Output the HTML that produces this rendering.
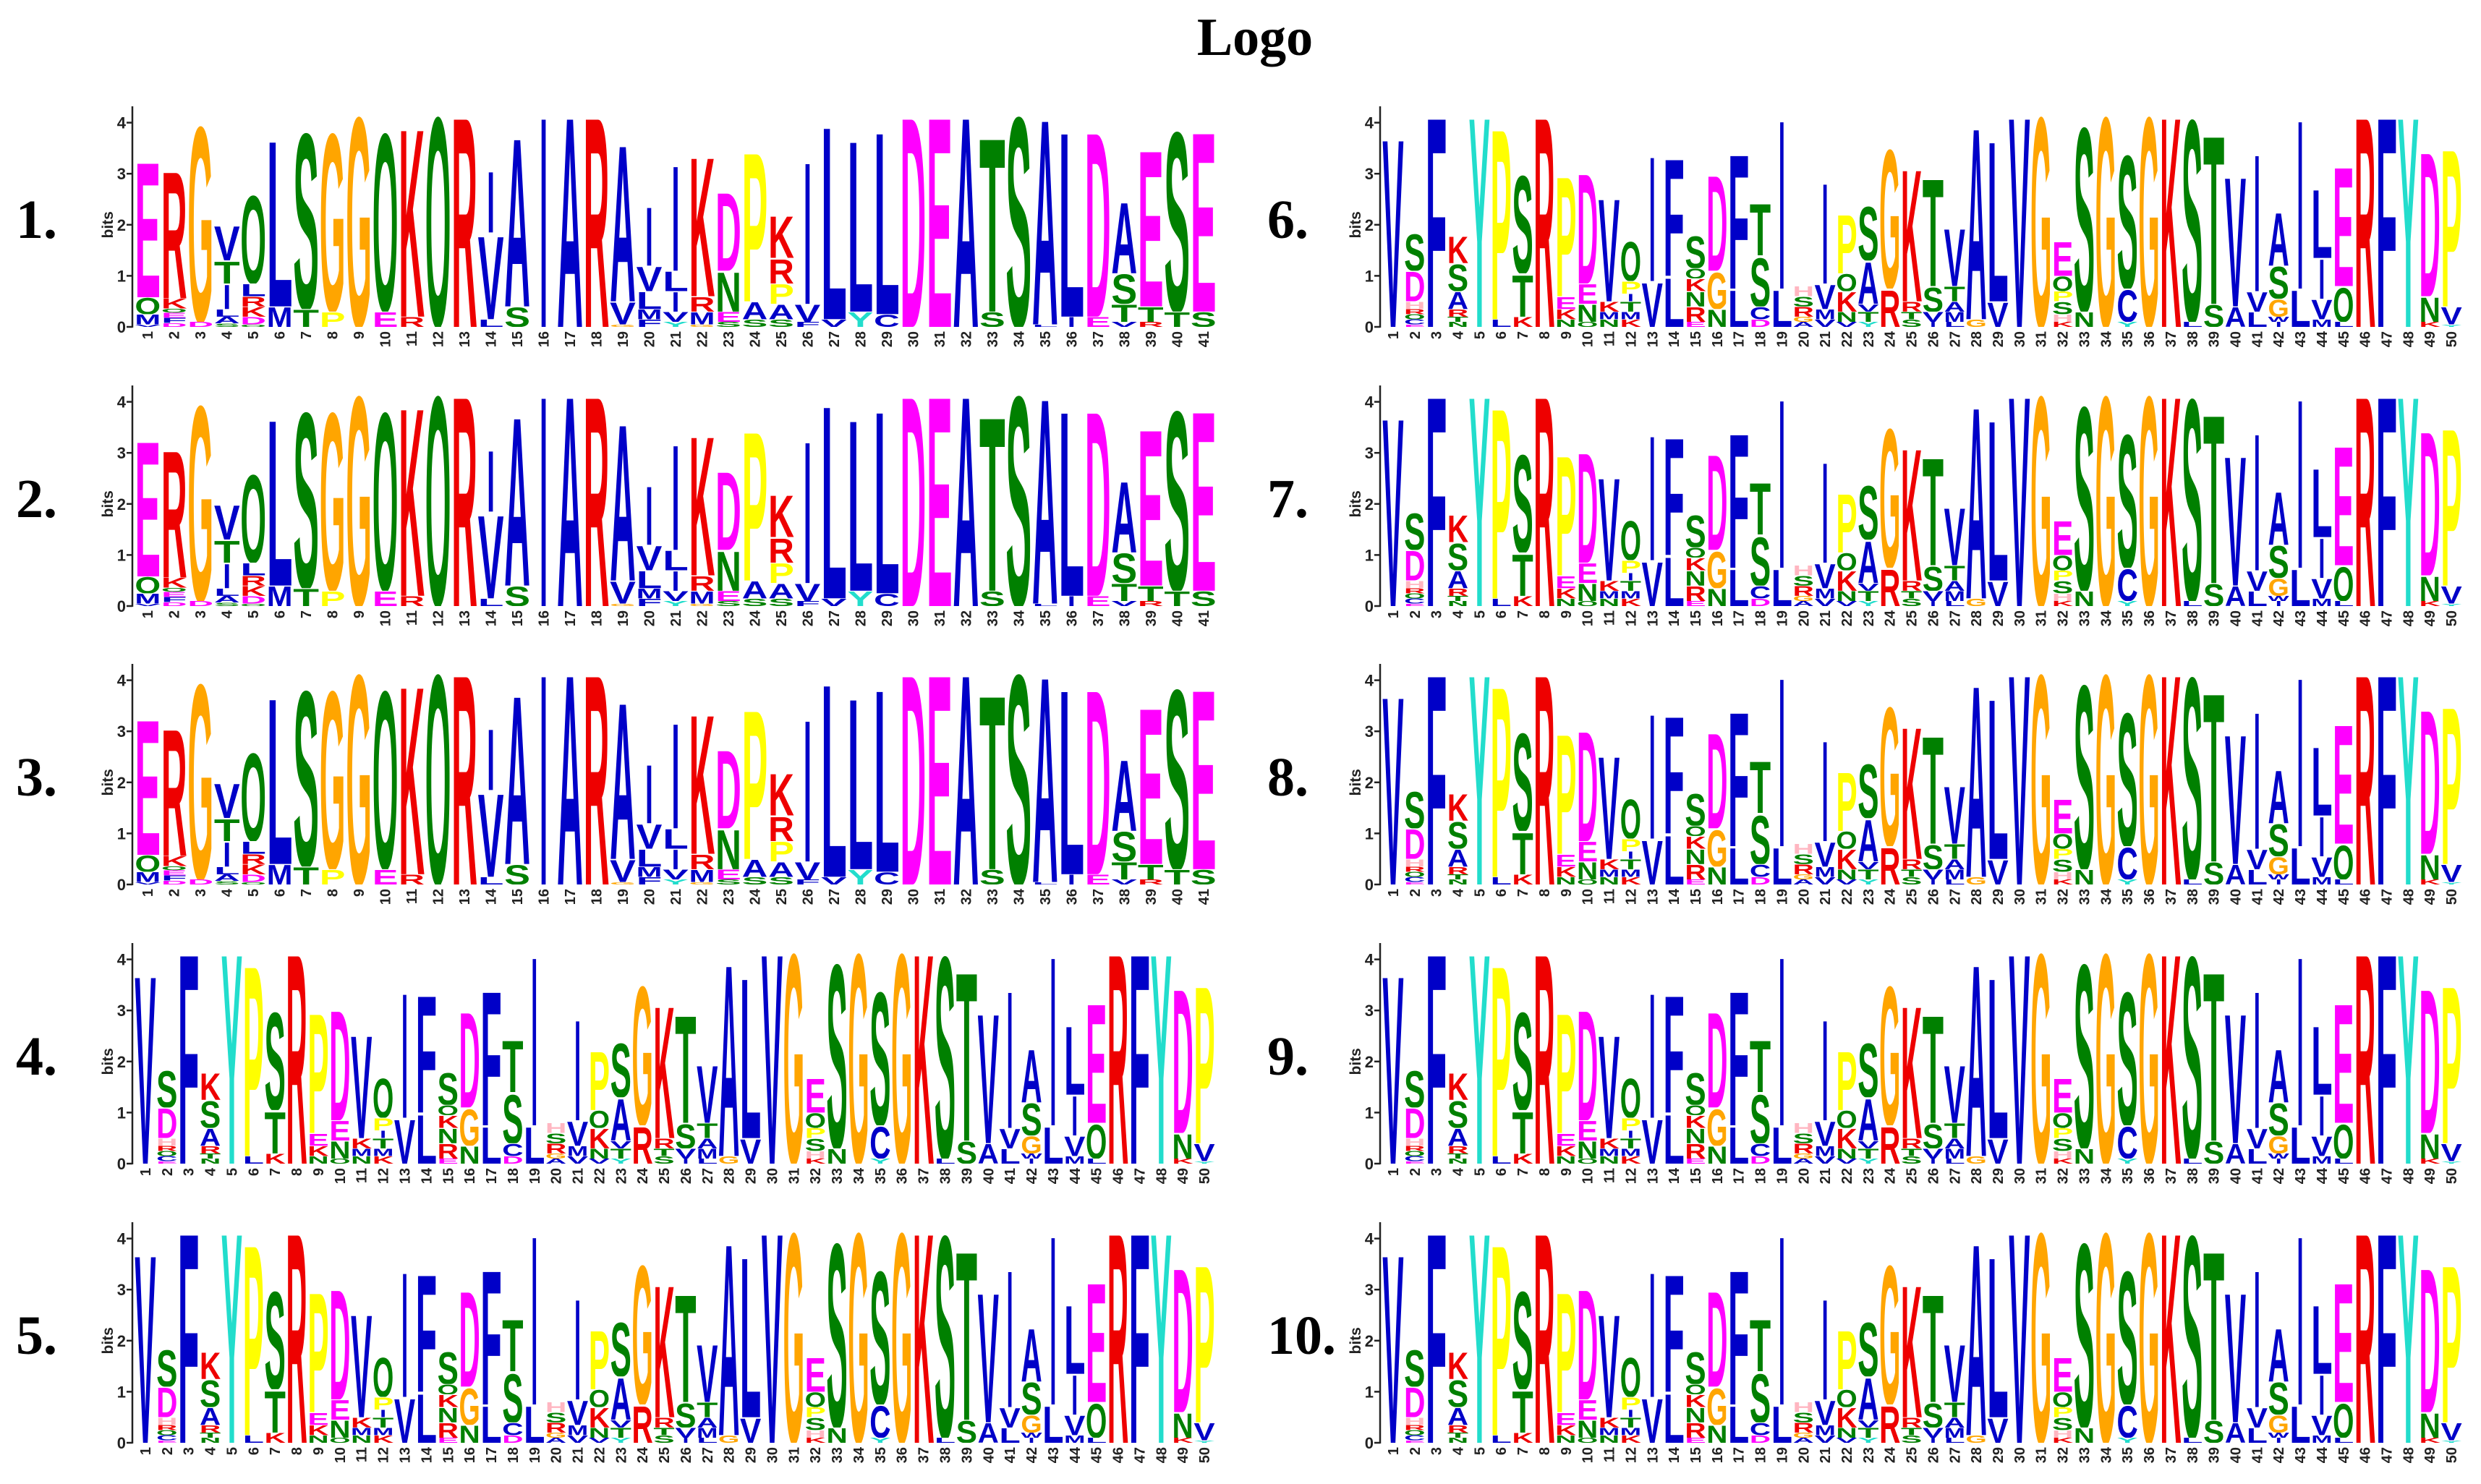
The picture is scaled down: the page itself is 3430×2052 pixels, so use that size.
<!DOCTYPE html>
<html><head><meta charset="utf-8">
<style>
html,body{margin:0;padding:0;background:#fff;}
svg{display:block;}
</style></head>
<body>
<svg id="fig" width="3430" height="2052" viewBox="0 0 3430 2052" xmlns="http://www.w3.org/2000/svg">
<rect width="3430" height="2052" fill="#fff"/>
<text x="1735" y="76" font-family="Liberation Serif, serif" font-weight="bold" font-size="74" text-anchor="middle">Logo</text>
</svg>
<script>
// Motif A (41 positions), stacks bottom->top as [letter, bits]
const motifA = [
 [["V",.05],["M",.2],["Q",.33],["E",2.77]],
 [["D",.08],["F",.1],["E",.1],["Q",.08],["K",.2],["R",2.6]],
 [["D",.1],["G",4.0]],
 [["S",.07],["A",.13],["L",.15],["I",.5],["T",.45],["V",.7]],
 [["Q",.05],["D",.15],["K",.2],["R",.2],["L",.25],["Q",1.8]],
 [["M",.4],["L",3.4]],
 [["T",.35],["S",3.6]],
 [["P",.3],["G",3.65]],
 [["G",4.3]],
 [["E",.3],["Q",3.65]],
 [["R",.2],["K",3.85]],
 [["Q",4.3]],
 [["R",4.3]],
 [["L",.15],["V",1.7],["I",1.25]],
 [["S",.4],["A",3.45]],
 [["I",4.3]],
 [["A",4.3]],
 [["R",4.3]],
 [["G",.05],["V",.45],["A",3.2]],
 [["F",.15],["M",.2],["L",.35],["V",.5],["I",1.2]],
 [["Y",.1],["V",.2],["I",.4],["L",.4],["I",2.15]],
 [["G",.05],["M",.25],["R",.3],["K",2.85]],
 [["S",.1],["E",.2],["N",.8],["D",1.6]],
 [["S",.15],["A",.35],["P",3.05]],
 [["S",.15],["A",.3],["P",.4],["R",.5],["K",.85]],
 [["F",.1],["V",.35],["I",2.9]],
 [["V",.15],["L",3.95]],
 [["Y",.3],["L",3.5]],
 [["C",.25],["L",3.73]],
 [["D",4.3]],
 [["E",4.3]],
 [["A",4.3]],
 [["S",.3],["T",3.56]],
 [["S",4.3]],
 [["L",.05],["A",4.2]],
 [["I",.2],["L",3.78]],
 [["E",.2],["D",3.78]],
 [["V",.1],["T",.35],["S",.6],["A",1.45]],
 [["R",.1],["T",.3],["E",3.2]],
 [["T",.3],["S",3.68]],
 [["S",.3],["E",3.68]]
];
// Motif B (50 positions)
const motifB = [
 [["V",3.85]],
 [["E",.05],["C",.1],["Q",.1],["R",.1],["H",.15],["D",.6],["S",.75]],
 [["F",4.3]],
 [["N",.1],["T",.1],["R",.15],["A",.35],["S",.55],["K",.55]],
 [["Y",4.3]],
 [["L",.15],["P",3.9]],
 [["K",.2],["T",.85],["S",2.0]],
 [["R",4.3]],
 [["N",.15],["K",.2],["E",.25],["P",2.45]],
 [["Q",.1],["N",.35],["E",.4],["D",2.25]],
 [["N",.15],["M",.15],["K",.2],["V",2.1]],
 [["K",.15],["M",.15],["T",.2],["I",.15],["P",.25],["Q",.8]],
 [["V",.9],["I",2.55]],
 [["L",1.0],["F",2.4]],
 [["E",.1],["R",.3],["N",.3],["K",.25],["Q",.2],["S",.65]],
 [["N",.35],["G",.75],["D",1.95]],
 [["L",.75],["F",2.75]],
 [["D",.15],["C",.25],["S",1.0],["T",1.05]],
 [["L",.75],["I",3.45]],
 [["A",.1],["G",.1],["R",.2],["S",.2],["H",.2]],
 [["V",.15],["M",.2],["V",.5],["I",2.05]],
 [["V",.1],["N",.2],["K",.4],["Q",.35],["P",1.2]],
 [["Y",.1],["T",.2],["V",.15],["A",.85],["S",1.1]],
 [["R",.75],["G",2.85]],
 [["S",.15],["T",.15],["R",.2],["K",2.7]],
 [["I",.1],["V",.2],["S",.5],["T",2.2]],
 [["L",.1],["M",.2],["A",.2],["T",.3],["V",1.17]],
 [["G",.15],["A",3.92]],
 [["V",.5],["L",3.28]],
 [["V",4.3]],
 [["G",4.3]],
 [["K",.1],["H",.15],["S",.25],["P",.2],["Q",.3],["E",.7]],
 [["N",.3],["S",3.77]],
 [["G",4.3]],
 [["Y",.1],["C",.65],["S",2.73]],
 [["G",4.3]],
 [["K",4.3]],
 [["L",.1],["S",4.14]],
 [["S",.45],["T",3.45]],
 [["A",.4],["V",2.65]],
 [["L",.3],["V",.4],["I",2.8]],
 [["I",.1],["W",.1],["G",.35],["S",.65],["A",1.08]],
 [["L",.75],["I",3.45]],
 [["M",.15],["V",.4],["I",.8],["L",1.4]],
 [["L",.1],["Q",.7],["E",2.44]],
 [["R",4.3]],
 [["F",4.3]],
 [["Y",4.3]],
 [["K",.1],["N",.5],["D",2.95]],
 [["Y",.05],["V",.35],["P",3.22]]
];
const yTicks = [0,1,2,3,4];
const panelLabels = ["1.","2.","3.","4.","5.","6.","7.","8.","9.","10."];
const panelMotifs = ["A","A","A","B","B","B","B","B","B","B"];

const colors = {A:"#0000c8",V:"#0000c8",L:"#0000c8",I:"#0000c8",F:"#0000c8",M:"#0000c8",W:"#0000c8",C:"#0000c8",
 Y:"#22ddcc",P:"#ffff00",G:"#ffa500",S:"#008000",T:"#008000",Q:"#008000",N:"#008000",
 K:"#ee0000",R:"#ee0000",H:"#ffb6c1",D:"#ff00ff",E:"#ff00ff"};
const NS="http://www.w3.org/2000/svg";
const svg=document.getElementById("fig");
function mk(t,attrs){const e=document.createElementNS(NS,t);for(const k in attrs)e.setAttribute(k,attrs[k]);return e;}

const rowsY=[452,838,1223,1609,1995];
const bitH=70.6;
const CAP=72.9;

panelLabels.forEach((lab,p)=>{
  const left = p<5;
  const y0 = rowsY[p%5];
  const axisX = left?183:1908;
  const x0 = axisX+3;
  const data = panelMotifs[p]==="A"?motifA:motifB;
  const xEnd = left?(panelMotifs[p]==="A"?1682:1680):3404;
  const colW=(xEnd-x0)/data.length;
  const yS=v=>y0-v*bitH;
  const g=mk("g",{});
  
  
  svg.appendChild(g);
  const lt=mk("text",{x:left?22:1752,y:y0-123,"font-family":"Liberation Serif, serif","font-weight":"bold","font-size":"76"});
  
  
  lt.textContent=lab;g.appendChild(lt);
  const ax=mk("line",{x1:axisX,y1:y0+1,x2:axisX,y2:yS(4.32),stroke:"#222","stroke-width":"2.5"});
  
  
  g.appendChild(ax);
  yTicks.forEach(t=>{
    g.appendChild(mk("line",{x1:axisX-8,y1:yS(t),x2:axisX,y2:yS(t),stroke:"#222","stroke-width":"2.5"}));
    const tt=mk("text",{x:axisX-9,y:yS(t)+8,"font-family":"Liberation Sans, sans-serif","font-weight":"bold","font-size":"22","text-anchor":"end",fill:"#222"});
    
    
    tt.textContent=t;g.appendChild(tt);
  });
  const bl=mk("text",{transform:`translate(${axisX-27},${yS(2)}) rotate(-90)`,"font-family":"Liberation Sans, sans-serif","font-weight":"bold","font-size":"21","text-anchor":"middle",fill:"#222"});
  
  
  bl.textContent="bits";g.appendChild(bl);
  data.forEach((col,i)=>{
    const cx=x0+i*colW;
    let acc=0;
    col.forEach(([L,h])=>{
      const yb=yS(acc);
      acc+=h;
      const hp=h*bitH;
      const box=mk("svg",{x:cx.toFixed(2),y:(yb-hp).toFixed(2),width:colW.toFixed(2),height:Math.max(hp,0.5).toFixed(2),overflow:"hidden"});
      
      
      const isI=(L==="I");
      const w=isI?colW*0.3:colW*0.98;
      const lx=isI?(colW-w)/2:colW*0.01;
      const t=mk("text",{x:0,y:0,"font-family":"Liberation Sans, sans-serif","font-weight":"bold","font-size":"100",fill:colors[L]||"#000",textLength:w.toFixed(2),lengthAdjust:"spacingAndGlyphs",transform:`translate(${lx.toFixed(2)},${hp.toFixed(2)}) scale(1,${(hp/CAP).toFixed(4)})`});
      
      
      t.textContent=L;box.appendChild(t);
      g.appendChild(box);
    });
    const xt=mk("text",{transform:`translate(${(cx+colW/2+7).toFixed(2)},${y0+6}) rotate(-90)`,"font-family":"Liberation Sans, sans-serif","font-weight":"bold","font-size":"20","text-anchor":"end",fill:"#222"});
    
    
    xt.textContent=i+1;g.appendChild(xt);
  });
});
</script>
</body></html>
